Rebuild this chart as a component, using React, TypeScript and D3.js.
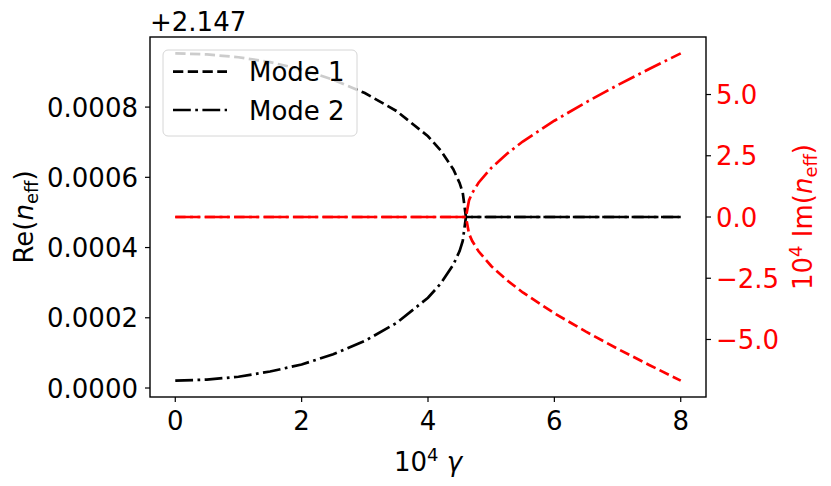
import React from 'react'
import * as d3 from 'd3'

// values
const gamma = [0, 0.5, 1, 1.5, 2, 2.5, 3, 3.5, 4, 4.2, 4.4, 4.5, 4.55, 4.6, 4.65, 4.7, 4.8, 5, 5.25, 5.5, 6, 6.5, 7, 7.5, 8]
// Re(n_eff) - 2.147
const reMode1 = [0.000953, 0.00095, 0.000942, 0.000928, 0.000907, 0.000878, 0.00084, 0.000789, 0.000717, 0.000677, 0.000623, 0.000584, 0.000556,
  0.000487, 0.000487, 0.000487, 0.000487, 0.000487, 0.000487, 0.000487, 0.000487, 0.000487, 0.000487, 0.000487, 0.000487]
const reMode2 = [0.000021, 0.000024, 0.000032, 0.000047, 0.000067, 0.000096, 0.000134, 0.000185, 0.000257, 0.000297, 0.000351, 0.00039, 0.000419,
  0.000487, 0.000487, 0.000487, 0.000487, 0.000487, 0.000487, 0.000487, 0.000487, 0.000487, 0.000487, 0.000487, 0.000487]
// 10^4 Im(n_eff)
const imMode1 = [0, 0, 0, 0, 0, 0, 0, 0, 0, 0, 0, 0, 0, 0, -0.69, -0.98, -1.4, -2.0, -2.58, -3.08, -3.93, -4.68, -5.38, -6.04, -6.68]
const imMode2 = [0, 0, 0, 0, 0, 0, 0, 0, 0, 0, 0, 0, 0, 0, 0.69, 0.98, 1.4, 2.0, 2.58, 3.08, 3.93, 4.68, 5.38, 6.04, 6.68]

const xTicks = [0, 2, 4, 6, 8]
const leftTicks = [0, 0.0002, 0.0004, 0.0006, 0.0008]
const rightTicks = [-5, -2.5, 0, 2.5, 5]
const offsetLabel = '+2.147'
const modeNames = ['Mode 1', 'Mode 2']

const W = 831, H = 486
const L = 150, R = 706, T = 37, B = 397
const FONT = 'DejaVu Sans'
const FS = 26
const SUB = 18
const LW = 2.7
const DASH = '10.3 4.45'
const DASHDOT = '17.8 4.45 2.7 4.45'

// matplotlib style 5% margins
const pad = (lo: number, hi: number) => [lo - (hi - lo) * 0.05, hi + (hi - lo) * 0.05]

export default function App() {
  const xExt = d3.extent(gamma) as [number, number]
  const x = d3.scaleLinear().domain(pad(xExt[0], xExt[1])).range([L, R])
  const reExt = d3.extent([...reMode1, ...reMode2]) as [number, number]
  const yL = d3.scaleLinear().domain(pad(reExt[0], reExt[1])).range([B, T])
  const imExt = d3.extent([...imMode1, ...imMode2]) as [number, number]
  const yR = d3.scaleLinear().domain(pad(imExt[0], imExt[1])).range([B, T])

  const lineL = (vals: number[]) => d3.line<number>().x((_, i) => x(gamma[i])).y(d => yL(d))(vals) || ''
  const lineR = (vals: number[]) => d3.line<number>().x((_, i) => x(gamma[i])).y(d => yR(d))(vals) || ''

  const fmtL = (v: number) => v.toFixed(4)
  const fmtR = (v: number) => v.toFixed(1).replace('-', '\u2212')

  const legX = 163, legY = 50
  const rows = [71.7, 110]

  return (
    <div style={{ position: 'absolute', left: 0, top: 0 }}>
      <svg width={W} height={H} style={{ display: 'block', background: '#fff' }} fontFamily={FONT}>
        <clipPath id='plot'><rect x={L} y={T} width={R - L} height={B - T} /></clipPath>

        {/* data lines */}
        <g clipPath='url(#plot)' fill='none' strokeWidth={LW}>
          <path d={lineL(reMode1)} stroke='#000' strokeDasharray={DASH} />
          <path d={lineL(reMode2)} stroke='#000' strokeDasharray={DASHDOT} />
          <path d={lineR(imMode1)} stroke='#ff0000' strokeDasharray={DASH} />
          <path d={lineR(imMode2)} stroke='#ff0000' strokeDasharray={DASHDOT} />
        </g>

        {/* spines */}
        <rect x={L} y={T} width={R - L} height={B - T} fill='none' stroke='#000' strokeWidth={1.4} />

        {/* x axis */}
        {xTicks.map(t => (
          <g key={'x' + t}>
            <line x1={x(t)} x2={x(t)} y1={B} y2={B + 5} stroke='#000' strokeWidth={1.2} />
            <text x={x(t)} y={430} textAnchor='middle' fontSize={FS}>{t}</text>
          </g>
        ))}
        <text x={(L + R) / 2} y={471} textAnchor='middle' fontSize={FS}>
          10<tspan fontSize={SUB} dy={-10}>4</tspan><tspan dy={10}> </tspan><tspan fontStyle='italic'>γ</tspan>
        </text>

        {/* left axis */}
        {leftTicks.map(t => (
          <g key={'l' + t}>
            <line x1={L - 5} x2={L} y1={yL(t)} y2={yL(t)} stroke='#000' strokeWidth={1.2} />
            <text x={138} y={yL(t)} dy={9.5} textAnchor='end' fontSize={FS}>{fmtL(t)}</text>
          </g>
        ))}
        <text x={L} y={31} fontSize={FS}>{offsetLabel}</text>
        <text transform={`translate(33,${(T + B) / 2}) rotate(-90)`} textAnchor='middle' fontSize={FS}>
          Re(<tspan fontStyle='italic'>n</tspan><tspan fontSize={SUB} dy={5}>eff</tspan><tspan dy={-5}>)</tspan>
        </text>

        {/* right axis */}
        {rightTicks.map(t => (
          <g key={'r' + t}>
            <line x1={R} x2={R + 5} y1={yR(t)} y2={yR(t)} stroke='#000' strokeWidth={1.2} />
            <text x={716} y={yR(t)} dy={9.5} fontSize={FS} fill='#ff0000'>{fmtR(t)}</text>
          </g>
        ))}
        <text transform={`translate(812,${(T + B) / 2}) rotate(-90)`} textAnchor='middle' fontSize={FS} fill='#ff0000'>
          10<tspan fontSize={SUB} dy={-10}>4</tspan><tspan dy={10}> Im(</tspan><tspan fontStyle='italic'>n</tspan><tspan fontSize={SUB} dy={5}>eff</tspan><tspan dy={-5}>)</tspan>
        </text>

        {/* legend */}
        <rect x={legX} y={legY} width={194} height={86} rx={5} fill='#fff' fillOpacity={0.8} stroke='#d6d6d6' strokeWidth={1} />
        {modeNames.map((name, i) => (
          <g key={name}>
            <line x1={173} x2={227} y1={rows[i]} y2={rows[i]} stroke='#000' strokeWidth={LW} strokeDasharray={i === 0 ? DASH : DASHDOT} />
            <text x={249} y={rows[i] + 9.5} fontSize={FS}>{name}</text>
          </g>
        ))}
      </svg>
    </div>
  )
}
